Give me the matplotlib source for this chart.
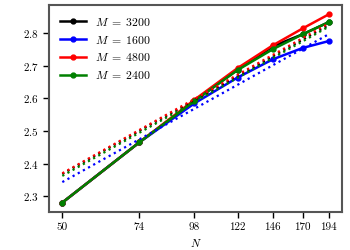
import numpy as np
import matplotlib
matplotlib.use('Agg')
import matplotlib.pyplot as plt
from matplotlib.ticker import FixedLocator, FixedFormatter, NullLocator

plt.rcParams['font.family'] = 'serif'
plt.rcParams['font.serif'] = ['cmr10', 'DejaVu Serif']
plt.rcParams['mathtext.fontset'] = 'cm'
plt.rcParams['axes.formatter.use_mathtext'] = True
plt.rcParams['font.size'] = 8

# данные
N = [50, 74, 98, 122, 146, 170, 194]
labels = [r'$M\;=\;3200$', r'$M\;=\;1600$', r'$M\;=\;4800$', r'$M\;=\;2400$']
colors = ['black', 'blue', 'red', 'green']
y_3200 = [2.28, 2.465, 2.593, 2.688, 2.76, 2.797, 2.834]
y_1600 = [2.28, 2.465, 2.585, 2.664, 2.72, 2.755, 2.776]
y_4800 = [2.28, 2.465, 2.596, 2.693, 2.763, 2.815, 2.858]
y_2400 = [2.28, 2.465, 2.592, 2.687, 2.751, 2.797, 2.834]
# пунктирные прямые (подгонка): значения при N=50 и N=194
fit_N = [50, 194]
fit_3200 = [2.368, 2.825]
fit_1600 = [2.343, 2.797]
fit_4800 = [2.370, 2.830]
fit_2400 = [2.362, 2.820]

series = [y_3200, y_1600, y_4800, y_2400]
fits = [fit_3200, fit_1600, fit_4800, fit_2400]

fig = plt.figure(figsize=(3.5, 2.5), dpi=100)
ax = fig.add_axes([0.14, 0.152, 0.837, 0.828])

for y, c, lab in zip(series, colors, labels):
    ax.plot(N, y, '-o', color=c, lw=1.8, ms=3.5, label=lab)
for f, c in zip(fits, colors):
    ax.plot(fit_N, f, ':', color=c, lw=1.6)

ax.set_xscale('log')
ax.xaxis.set_major_locator(FixedLocator(N))
ax.xaxis.set_major_formatter(FixedFormatter([str(n) for n in N]))
ax.xaxis.set_minor_locator(NullLocator())
ax.set_yticks([2.3, 2.4, 2.5, 2.6, 2.7, 2.8])
ax.set_xlabel('$N$')

for s in ax.spines.values():
    s.set_color('#555555')
    s.set_linewidth(1.5)
ax.tick_params(length=4, width=1)

ax.legend(loc='upper left', frameon=False, handlelength=2.2, fontsize=8.5)

fig.savefig('out.png', dpi=100)
